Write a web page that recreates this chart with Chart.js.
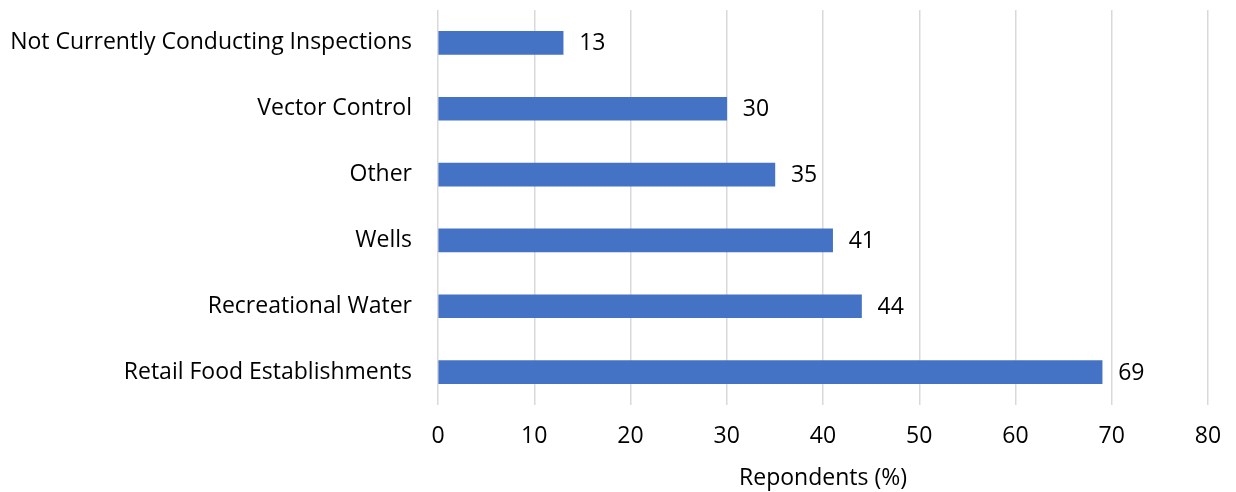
<!DOCTYPE html>
<html>
<head>
<meta charset="utf-8">
<script src="https://cdn.jsdelivr.net/npm/chart.js@4/dist/chart.umd.min.js"></script>
<style>
  html, body { margin: 0; padding: 0; background: #fff; }
  #wrap { width: 1236px; height: 492px; position: relative; }
</style>
</head>
<body>
<div id="wrap"><canvas id="c" width="1236" height="492"></canvas></div>
<script>
// Inspection types and share of respondents (%)
const categories = [
  'Not Currently Conducting Inspections',
  'Vector Control',
  'Other',
  'Wells',
  'Recreational Water',
  'Retail Food Establishments'
];
const respondents = [13, 30, 35, 41, 44, 69];
const xTicks = [0, 10, 20, 30, 40, 50, 60, 70, 80];
const axisTitle = 'Repondents (%)';

const FONT = '"Open Sans", Lato, sans-serif';
const SIZE = 23;

// Writes each bar's value just past its end
const valueLabels = {
  id: 'valueLabels',
  afterDatasetsDraw(chart) {
    const ctx = chart.ctx;
    const meta = chart.getDatasetMeta(0);
    ctx.save();
    ctx.font = SIZE + 'px ' + FONT;
    ctx.fillStyle = '#000';
    ctx.textAlign = 'left';
    ctx.textBaseline = 'middle';
    meta.data.forEach((bar, i) => {
      ctx.fillText(String(chart.data.datasets[0].data[i]), bar.x + 16, bar.y + 1);
    });
    ctx.restore();
  }
};

new Chart(document.getElementById('c'), {
  type: 'bar',
  data: {
    labels: categories,
    datasets: [{
      data: respondents,
      backgroundColor: '#4472C4',
      borderWidth: 0,
      barThickness: 23
    }]
  },
  options: {
    indexAxis: 'y',
    responsive: false,
    animation: false,
    layout: { padding: { left: 0, right: 28, top: 10, bottom: 0 } },
    plugins: {
      legend: { display: false },
      tooltip: { enabled: false }
    },
    scales: {
      x: {
        min: 0,
        max: 80,
        afterBuildTicks(scale) { scale.ticks = xTicks.map(v => ({ value: v })); },
        afterFit(scale) {
          scale.height = 87;
          scale.paddingLeft = 0;
          scale.paddingRight = 0;
        },
        grid: { color: '#d9d9d9', lineWidth: 1.5, drawTicks: false },
        border: { display: false },
        ticks: {
          padding: 18,
          color: '#000',
          font: { family: FONT, size: SIZE }
        },
        title: {
          display: true,
          text: axisTitle,
          color: '#000',
          font: { family: FONT, size: SIZE },
          padding: { top: 13, bottom: 0 }
        }
      },
      y: {
        afterFit(scale) {
          scale.width = 438;
          scale.paddingTop = 0;
          scale.paddingBottom = 0;
        },
        grid: { display: false, drawTicks: false },
        border: { display: false },
        ticks: {
          padding: 26,
          color: '#000',
          font: { family: FONT, size: SIZE, lineHeight: 1.0 }
        }
      }
    }
  },
  plugins: [valueLabels]
});
</script>
</body>
</html>
